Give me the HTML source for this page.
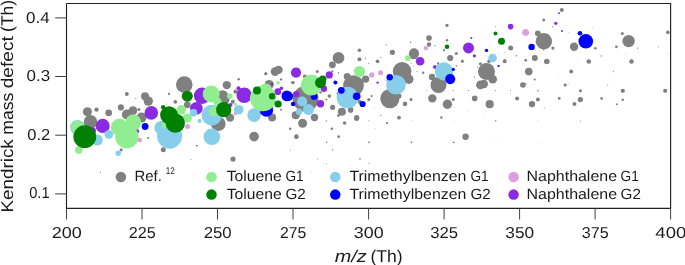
<!DOCTYPE html>
<html><head><meta charset="utf-8"><style>
html,body{margin:0;padding:0;background:#fff;}
body{width:685px;height:265px;overflow:hidden;position:relative;font-family:"Liberation Sans",sans-serif;}
svg{position:absolute;left:0;top:0;}
text{font-family:"Liberation Sans",sans-serif;fill:#1a1a1a;text-rendering:geometricPrecision;}
</style></head><body>
<svg width="685" height="265" viewBox="0 0 685 265" style="will-change:transform">
<rect width="685" height="265" fill="#fff"/>
<clipPath id="cp"><rect x="66.5" y="3.5" width="604.1" height="204.9"/></clipPath>
<g clip-path="url(#cp)">
<circle cx="87.4" cy="111.7" r="4.55" fill="#808080"/>
<circle cx="96.5" cy="109.6" r="2.20" fill="#808080"/>
<circle cx="108.7" cy="112.8" r="3.40" fill="#808080"/>
<circle cx="120.9" cy="107.4" r="3.10" fill="#808080"/>
<circle cx="126.9" cy="114.5" r="5.10" fill="#808080"/>
<circle cx="133.0" cy="110.6" r="4.30" fill="#808080"/>
<circle cx="138.9" cy="109.6" r="1.50" fill="#808080"/>
<circle cx="141.5" cy="117.6" r="5.00" fill="#808080"/>
<circle cx="90.5" cy="121.9" r="6.80" fill="#808080"/>
<circle cx="121.2" cy="149.8" r="1.60" fill="#808080"/>
<circle cx="126.8" cy="93.9" r="2.00" fill="#808080"/>
<circle cx="145.0" cy="96.3" r="4.00" fill="#808080"/>
<circle cx="148.3" cy="101.1" r="4.70" fill="#808080"/>
<circle cx="135.8" cy="98.5" r="0.60" fill="#808080"/>
<circle cx="169.0" cy="93.9" r="1.10" fill="#808080"/>
<circle cx="175.3" cy="101.8" r="1.90" fill="#808080"/>
<circle cx="166.4" cy="103.9" r="0.50" fill="#808080"/>
<circle cx="184.3" cy="84.6" r="8.30" fill="#808080"/>
<circle cx="187.3" cy="104.8" r="3.40" fill="#808080"/>
<circle cx="148.2" cy="138.0" r="1.10" fill="#808080"/>
<circle cx="196.6" cy="145.6" r="0.90" fill="#808080"/>
<circle cx="163.3" cy="149.8" r="2.50" fill="#808080"/>
<circle cx="218.3" cy="123.8" r="7.30" fill="#808080"/>
<circle cx="226.8" cy="85.1" r="4.20" fill="#808080"/>
<circle cx="238.7" cy="79.2" r="1.20" fill="#808080"/>
<circle cx="275.0" cy="71.6" r="4.30" fill="#808080"/>
<circle cx="278.5" cy="69.9" r="4.20" fill="#808080"/>
<circle cx="275.0" cy="75.6" r="0.50" fill="#808080"/>
<circle cx="265.8" cy="73.7" r="1.60" fill="#808080"/>
<circle cx="281.0" cy="79.4" r="1.20" fill="#808080"/>
<circle cx="269.2" cy="84.5" r="4.60" fill="#808080"/>
<circle cx="235.6" cy="91.6" r="2.20" fill="#808080"/>
<circle cx="222.5" cy="95.9" r="5.70" fill="#808080"/>
<circle cx="225.4" cy="99.8" r="4.00" fill="#808080"/>
<circle cx="291.8" cy="82.6" r="1.00" fill="#808080"/>
<circle cx="232.8" cy="101.7" r="2.00" fill="#808080"/>
<circle cx="230.0" cy="117.6" r="4.20" fill="#808080"/>
<circle cx="272.1" cy="117.6" r="4.00" fill="#808080"/>
<circle cx="281.0" cy="109.7" r="1.00" fill="#808080"/>
<circle cx="254.1" cy="136.6" r="4.80" fill="#808080"/>
<circle cx="290.2" cy="128.8" r="1.30" fill="#808080"/>
<circle cx="298.8" cy="69.0" r="0.80" fill="#808080"/>
<circle cx="338.5" cy="57.8" r="5.90" fill="#808080"/>
<circle cx="332.4" cy="64.8" r="3.40" fill="#808080"/>
<circle cx="359.5" cy="59.3" r="2.00" fill="#808080"/>
<circle cx="365.4" cy="58.3" r="0.60" fill="#808080"/>
<circle cx="317.3" cy="71.6" r="1.50" fill="#808080"/>
<circle cx="332.4" cy="71.3" r="1.10" fill="#808080"/>
<circle cx="338.5" cy="72.7" r="0.80" fill="#808080"/>
<circle cx="293.1" cy="82.6" r="1.70" fill="#808080"/>
<circle cx="304.9" cy="76.4" r="2.00" fill="#808080"/>
<circle cx="320.5" cy="92.4" r="1.20" fill="#808080"/>
<circle cx="305.6" cy="98.8" r="12.90" fill="#808080"/>
<circle cx="329.3" cy="96.1" r="1.80" fill="#808080"/>
<circle cx="326.4" cy="99.5" r="1.00" fill="#808080"/>
<circle cx="359.6" cy="101.8" r="2.00" fill="#808080"/>
<circle cx="347.2" cy="76.4" r="3.50" fill="#808080"/>
<circle cx="353.5" cy="85.6" r="10.40" fill="#808080"/>
<circle cx="295.7" cy="115.2" r="4.00" fill="#808080"/>
<circle cx="314.5" cy="117.5" r="3.70" fill="#808080"/>
<circle cx="302.6" cy="123.2" r="4.50" fill="#808080"/>
<circle cx="332.6" cy="107.3" r="2.60" fill="#808080"/>
<circle cx="341.9" cy="111.8" r="4.00" fill="#808080"/>
<circle cx="338.5" cy="115.6" r="1.40" fill="#808080"/>
<circle cx="350.6" cy="109.9" r="2.80" fill="#808080"/>
<circle cx="356.7" cy="117.5" r="2.60" fill="#808080"/>
<circle cx="344.6" cy="123.0" r="1.80" fill="#808080"/>
<circle cx="326.4" cy="120.9" r="0.70" fill="#808080"/>
<circle cx="402.1" cy="71.3" r="9.30" fill="#808080"/>
<circle cx="408.7" cy="79.2" r="4.80" fill="#808080"/>
<circle cx="377.6" cy="61.3" r="1.90" fill="#808080"/>
<circle cx="365.6" cy="79.1" r="3.70" fill="#808080"/>
<circle cx="413.8" cy="54.5" r="4.80" fill="#808080"/>
<circle cx="438.1" cy="63.5" r="1.20" fill="#808080"/>
<circle cx="423.2" cy="72.7" r="1.20" fill="#808080"/>
<circle cx="432.0" cy="76.9" r="3.20" fill="#808080"/>
<circle cx="438.5" cy="85.0" r="8.00" fill="#808080"/>
<circle cx="365.4" cy="58.1" r="0.50" fill="#808080"/>
<circle cx="368.5" cy="63.6" r="0.60" fill="#808080"/>
<circle cx="380.6" cy="57.6" r="0.50" fill="#808080"/>
<circle cx="386.7" cy="65.8" r="0.40" fill="#808080"/>
<circle cx="411.2" cy="63.6" r="0.50" fill="#808080"/>
<circle cx="414.0" cy="65.9" r="0.50" fill="#808080"/>
<circle cx="417.0" cy="71.6" r="0.50" fill="#808080"/>
<circle cx="389.9" cy="98.6" r="9.60" fill="#808080"/>
<circle cx="399.0" cy="96.1" r="2.50" fill="#808080"/>
<circle cx="371.7" cy="96.1" r="1.10" fill="#808080"/>
<circle cx="368.8" cy="99.6" r="1.60" fill="#808080"/>
<circle cx="411.0" cy="99.6" r="1.50" fill="#808080"/>
<circle cx="405.0" cy="103.9" r="2.30" fill="#808080"/>
<circle cx="432.3" cy="98.4" r="4.20" fill="#808080"/>
<circle cx="426.1" cy="90.7" r="0.50" fill="#808080"/>
<circle cx="399.0" cy="117.7" r="1.90" fill="#808080"/>
<circle cx="387.0" cy="123.1" r="1.10" fill="#808080"/>
<circle cx="374.5" cy="107.8" r="0.40" fill="#808080"/>
<circle cx="380.8" cy="115.4" r="0.60" fill="#808080"/>
<circle cx="368.8" cy="120.7" r="0.50" fill="#808080"/>
<circle cx="411.2" cy="120.7" r="0.40" fill="#808080"/>
<circle cx="447.0" cy="40.3" r="1.20" fill="#808080"/>
<circle cx="444.0" cy="50.2" r="1.10" fill="#808080"/>
<circle cx="456.3" cy="53.6" r="1.50" fill="#808080"/>
<circle cx="450.2" cy="58.0" r="3.10" fill="#808080"/>
<circle cx="510.6" cy="47.9" r="2.50" fill="#808080"/>
<circle cx="489.0" cy="61.3" r="1.80" fill="#808080"/>
<circle cx="489.5" cy="46.8" r="0.40" fill="#808080"/>
<circle cx="498.6" cy="53.7" r="0.40" fill="#808080"/>
<circle cx="504.7" cy="52.5" r="0.40" fill="#808080"/>
<circle cx="504.7" cy="59.9" r="0.90" fill="#808080"/>
<circle cx="462.4" cy="59.7" r="0.50" fill="#808080"/>
<circle cx="447.0" cy="25.3" r="1.60" fill="#808080"/>
<circle cx="495.4" cy="26.7" r="0.50" fill="#808080"/>
<circle cx="486.5" cy="71.4" r="8.50" fill="#808080"/>
<circle cx="492.7" cy="79.3" r="4.30" fill="#808080"/>
<circle cx="480.4" cy="63.7" r="1.50" fill="#808080"/>
<circle cx="462.4" cy="61.3" r="1.50" fill="#808080"/>
<circle cx="456.3" cy="65.9" r="0.80" fill="#808080"/>
<circle cx="477.5" cy="67.0" r="0.60" fill="#808080"/>
<circle cx="474.4" cy="77.1" r="0.70" fill="#808080"/>
<circle cx="504.7" cy="61.3" r="2.00" fill="#808080"/>
<circle cx="480.4" cy="84.9" r="4.30" fill="#808080"/>
<circle cx="483.8" cy="84.0" r="4.20" fill="#808080"/>
<circle cx="474.7" cy="98.4" r="2.80" fill="#808080"/>
<circle cx="453.3" cy="99.6" r="1.50" fill="#808080"/>
<circle cx="447.4" cy="104.2" r="4.70" fill="#808080"/>
<circle cx="489.7" cy="104.2" r="4.10" fill="#808080"/>
<circle cx="453.3" cy="90.5" r="0.60" fill="#808080"/>
<circle cx="468.5" cy="90.5" r="0.60" fill="#808080"/>
<circle cx="495.6" cy="90.5" r="0.60" fill="#808080"/>
<circle cx="510.6" cy="90.5" r="0.50" fill="#808080"/>
<circle cx="436.0" cy="98.3" r="0.50" fill="#808080"/>
<circle cx="441.4" cy="117.5" r="1.20" fill="#808080"/>
<circle cx="495.8" cy="120.7" r="0.70" fill="#808080"/>
<circle cx="453.3" cy="120.7" r="0.30" fill="#808080"/>
<circle cx="483.5" cy="117.7" r="0.30" fill="#808080"/>
<circle cx="468.5" cy="111.6" r="0.30" fill="#808080"/>
<circle cx="561.8" cy="9.9" r="2.00" fill="#808080"/>
<circle cx="543.7" cy="20.0" r="1.40" fill="#808080"/>
<circle cx="552.7" cy="26.8" r="0.60" fill="#808080"/>
<circle cx="537.8" cy="33.3" r="2.90" fill="#808080"/>
<circle cx="543.9" cy="41.2" r="8.20" fill="#808080"/>
<circle cx="552.9" cy="48.1" r="1.60" fill="#808080"/>
<circle cx="543.7" cy="49.8" r="0.80" fill="#808080"/>
<circle cx="574.1" cy="46.7" r="4.20" fill="#808080"/>
<circle cx="568.1" cy="32.5" r="0.40" fill="#808080"/>
<circle cx="555.9" cy="37.8" r="0.30" fill="#808080"/>
<circle cx="540.8" cy="53.4" r="0.40" fill="#808080"/>
<circle cx="534.8" cy="54.7" r="0.30" fill="#808080"/>
<circle cx="516.5" cy="55.7" r="0.80" fill="#808080"/>
<circle cx="534.8" cy="58.0" r="3.00" fill="#808080"/>
<circle cx="546.8" cy="61.5" r="2.80" fill="#808080"/>
<circle cx="528.8" cy="71.6" r="3.80" fill="#808080"/>
<circle cx="525.7" cy="60.3" r="1.40" fill="#808080"/>
<circle cx="571.2" cy="71.5" r="1.90" fill="#808080"/>
<circle cx="588.8" cy="61.5" r="2.30" fill="#808080"/>
<circle cx="534.8" cy="79.4" r="1.00" fill="#808080"/>
<circle cx="559.2" cy="76.7" r="0.30" fill="#808080"/>
<circle cx="577.2" cy="58.3" r="0.30" fill="#808080"/>
<circle cx="522.5" cy="63.6" r="0.30" fill="#808080"/>
<circle cx="522.9" cy="85.0" r="2.80" fill="#808080"/>
<circle cx="526.0" cy="83.8" r="0.70" fill="#808080"/>
<circle cx="537.9" cy="90.7" r="0.80" fill="#808080"/>
<circle cx="517.1" cy="98.4" r="2.00" fill="#808080"/>
<circle cx="537.9" cy="99.6" r="2.00" fill="#808080"/>
<circle cx="532.0" cy="104.1" r="3.20" fill="#808080"/>
<circle cx="565.2" cy="85.0" r="1.60" fill="#808080"/>
<circle cx="568.4" cy="83.6" r="0.40" fill="#808080"/>
<circle cx="559.2" cy="98.4" r="1.40" fill="#808080"/>
<circle cx="580.4" cy="90.7" r="1.50" fill="#808080"/>
<circle cx="580.4" cy="99.6" r="2.60" fill="#808080"/>
<circle cx="574.4" cy="104.1" r="2.00" fill="#808080"/>
<circle cx="544.2" cy="107.7" r="0.50" fill="#808080"/>
<circle cx="538.2" cy="120.8" r="0.40" fill="#808080"/>
<circle cx="580.4" cy="121.0" r="0.60" fill="#808080"/>
<circle cx="628.6" cy="41.1" r="6.20" fill="#808080"/>
<circle cx="622.3" cy="33.5" r="1.50" fill="#808080"/>
<circle cx="616.4" cy="46.8" r="1.40" fill="#808080"/>
<circle cx="595.3" cy="48.2" r="1.30" fill="#808080"/>
<circle cx="667.8" cy="32.4" r="1.80" fill="#808080"/>
<circle cx="601.3" cy="55.9" r="0.70" fill="#808080"/>
<circle cx="637.6" cy="48.2" r="0.60" fill="#808080"/>
<circle cx="625.5" cy="53.8" r="0.40" fill="#808080"/>
<circle cx="658.5" cy="46.8" r="0.50" fill="#808080"/>
<circle cx="667.8" cy="53.8" r="0.40" fill="#808080"/>
<circle cx="592.4" cy="27.6" r="0.40" fill="#808080"/>
<circle cx="631.5" cy="59.0" r="0.40" fill="#808080"/>
<circle cx="631.5" cy="61.5" r="2.30" fill="#808080"/>
<circle cx="613.4" cy="71.6" r="0.60" fill="#808080"/>
<circle cx="607.5" cy="85.1" r="0.50" fill="#808080"/>
<circle cx="610.5" cy="83.8" r="0.30" fill="#808080"/>
<circle cx="622.8" cy="90.8" r="2.10" fill="#808080"/>
<circle cx="665.2" cy="90.8" r="2.10" fill="#808080"/>
<circle cx="601.6" cy="98.4" r="1.30" fill="#808080"/>
<circle cx="622.8" cy="99.7" r="1.20" fill="#808080"/>
<circle cx="616.8" cy="104.2" r="1.00" fill="#808080"/>
<circle cx="197.0" cy="145.7" r="0.70" fill="#808080"/>
<circle cx="191.0" cy="159.3" r="0.50" fill="#808080"/>
<circle cx="100.4" cy="172.3" r="0.60" fill="#808080"/>
<circle cx="233.0" cy="159.1" r="2.60" fill="#808080"/>
<circle cx="296.4" cy="136.7" r="2.40" fill="#808080"/>
<circle cx="290.4" cy="149.9" r="0.50" fill="#808080"/>
<circle cx="326.6" cy="142.3" r="0.80" fill="#808080"/>
<circle cx="317.4" cy="159.1" r="0.50" fill="#808080"/>
<circle cx="326.4" cy="163.7" r="0.40" fill="#808080"/>
<circle cx="331.8" cy="128.8" r="1.30" fill="#808080"/>
<circle cx="338.6" cy="136.7" r="1.40" fill="#808080"/>
<circle cx="356.6" cy="118.3" r="2.60" fill="#808080"/>
<circle cx="369.0" cy="142.3" r="0.90" fill="#808080"/>
<circle cx="411.4" cy="142.3" r="0.90" fill="#808080"/>
<circle cx="453.6" cy="142.3" r="0.90" fill="#808080"/>
<circle cx="332.6" cy="149.9" r="0.70" fill="#808080"/>
<circle cx="360.0" cy="159.1" r="0.80" fill="#808080"/>
<circle cx="369.0" cy="163.5" r="0.60" fill="#808080"/>
<circle cx="387.0" cy="123.1" r="0.80" fill="#808080"/>
<circle cx="375.0" cy="128.7" r="0.40" fill="#808080"/>
<circle cx="465.6" cy="136.7" r="3.20" fill="#808080"/>
<circle cx="496.0" cy="142.3" r="0.40" fill="#808080"/>
<circle cx="538.4" cy="142.3" r="0.30" fill="#808080"/>
<circle cx="270.1" cy="171.7" r="0.50" fill="#808080"/>
<circle cx="311.4" cy="171.9" r="0.40" fill="#808080"/>
<circle cx="326.3" cy="163.7" r="0.40" fill="#808080"/>
<circle cx="429.0" cy="38.1" r="2.80" fill="#808080"/>
<circle cx="429.0" cy="44.5" r="2.20" fill="#808080"/>
<circle cx="414.0" cy="53.3" r="5.00" fill="#808080"/>
<circle cx="392.4" cy="52.3" r="2.60" fill="#808080"/>
<circle cx="359.4" cy="50.3" r="1.80" fill="#808080"/>
<circle cx="386.4" cy="44.7" r="0.60" fill="#808080"/>
<circle cx="410.6" cy="42.3" r="0.70" fill="#808080"/>
<circle cx="435.0" cy="45.7" r="0.70" fill="#808080"/>
<circle cx="139.7" cy="140.1" r="2.30" fill="#dda0dd"/>
<circle cx="187.5" cy="126.5" r="2.50" fill="#dda0dd"/>
<circle cx="235.4" cy="113.6" r="1.80" fill="#dda0dd"/>
<circle cx="371.7" cy="74.9" r="2.60" fill="#dda0dd"/>
<circle cx="380.6" cy="72.7" r="2.50" fill="#dda0dd"/>
<circle cx="386.3" cy="80.6" r="0.80" fill="#dda0dd"/>
<circle cx="525.6" cy="32.4" r="3.40" fill="#dda0dd"/>
<circle cx="425.8" cy="48.1" r="2.20" fill="#dda0dd"/>
<circle cx="102.7" cy="125.9" r="7.05" fill="#8a2be2"/>
<circle cx="92.5" cy="130.8" r="3.50" fill="#8a2be2"/>
<circle cx="136.8" cy="131.3" r="2.30" fill="#8a2be2"/>
<circle cx="202.1" cy="95.7" r="8.20" fill="#8a2be2"/>
<circle cx="196.4" cy="108.3" r="6.30" fill="#8a2be2"/>
<circle cx="151.3" cy="112.9" r="6.80" fill="#8a2be2"/>
<circle cx="271.9" cy="84.2" r="1.40" fill="#8a2be2"/>
<circle cx="238.5" cy="88.2" r="2.00" fill="#8a2be2"/>
<circle cx="244.2" cy="95.3" r="7.70" fill="#8a2be2"/>
<circle cx="277.8" cy="91.7" r="3.40" fill="#8a2be2"/>
<circle cx="281.4" cy="88.2" r="1.80" fill="#8a2be2"/>
<circle cx="230.5" cy="104.9" r="2.00" fill="#8a2be2"/>
<circle cx="296.0" cy="72.6" r="5.10" fill="#8a2be2"/>
<circle cx="329.3" cy="74.9" r="3.60" fill="#8a2be2"/>
<circle cx="323.9" cy="88.7" r="3.20" fill="#8a2be2"/>
<circle cx="296.2" cy="94.1" r="3.20" fill="#8a2be2"/>
<circle cx="320.5" cy="103.8" r="3.70" fill="#8a2be2"/>
<circle cx="337.5" cy="93.5" r="1.00" fill="#8a2be2"/>
<circle cx="377.6" cy="82.6" r="1.20" fill="#8a2be2"/>
<circle cx="420.1" cy="61.2" r="4.30" fill="#8a2be2"/>
<circle cx="434.9" cy="67.0" r="1.90" fill="#8a2be2"/>
<circle cx="468.5" cy="47.9" r="5.50" fill="#8a2be2"/>
<circle cx="471.3" cy="38.0" r="1.10" fill="#8a2be2"/>
<circle cx="474.4" cy="55.8" r="1.60" fill="#8a2be2"/>
<circle cx="559.0" cy="13.3" r="1.00" fill="#8a2be2"/>
<circle cx="555.8" cy="23.3" r="1.60" fill="#8a2be2"/>
<circle cx="562.0" cy="31.1" r="1.00" fill="#8a2be2"/>
<circle cx="510.6" cy="26.6" r="2.80" fill="#8a2be2"/>
<circle cx="77.6" cy="127.5" r="7.50" fill="#87ceeb"/>
<circle cx="97.3" cy="140.1" r="5.50" fill="#87ceeb"/>
<circle cx="108.9" cy="134.4" r="4.40" fill="#87ceeb"/>
<circle cx="118.2" cy="153.3" r="2.70" fill="#87ceeb"/>
<circle cx="193.5" cy="112.8" r="3.80" fill="#87ceeb"/>
<circle cx="211.8" cy="115.1" r="10.30" fill="#87ceeb"/>
<circle cx="199.5" cy="121.1" r="2.00" fill="#87ceeb"/>
<circle cx="169.6" cy="136.2" r="12.50" fill="#87ceeb"/>
<circle cx="161.1" cy="127.7" r="6.80" fill="#87ceeb"/>
<circle cx="211.8" cy="136.8" r="8.30" fill="#87ceeb"/>
<circle cx="254.1" cy="115.1" r="6.80" fill="#87ceeb"/>
<circle cx="238.8" cy="109.7" r="4.80" fill="#87ceeb"/>
<circle cx="302.2" cy="101.5" r="5.10" fill="#87ceeb"/>
<circle cx="308.5" cy="109.5" r="5.50" fill="#87ceeb"/>
<circle cx="299.0" cy="111.8" r="3.20" fill="#87ceeb"/>
<circle cx="347.5" cy="97.5" r="10.80" fill="#87ceeb"/>
<circle cx="396.0" cy="84.8" r="9.80" fill="#87ceeb"/>
<circle cx="442.5" cy="71.3" r="5.50" fill="#87ceeb"/>
<circle cx="492.6" cy="58.0" r="4.30" fill="#87ceeb"/>
<circle cx="444.0" cy="71.4" r="9.10" fill="#87ceeb"/>
<circle cx="145.1" cy="126.5" r="3.40" fill="#0000ff"/>
<circle cx="286.9" cy="95.9" r="5.40" fill="#0000ff"/>
<circle cx="266.4" cy="109.9" r="6.80" fill="#0000ff"/>
<circle cx="335.4" cy="82.6" r="2.00" fill="#0000ff"/>
<circle cx="288.6" cy="96.3" r="4.60" fill="#0000ff"/>
<circle cx="314.2" cy="96.4" r="3.40" fill="#0000ff"/>
<circle cx="293.1" cy="104.0" r="2.30" fill="#0000ff"/>
<circle cx="341.3" cy="90.3" r="3.40" fill="#0000ff"/>
<circle cx="356.7" cy="96.2" r="3.80" fill="#0000ff"/>
<circle cx="362.6" cy="104.0" r="3.10" fill="#0000ff"/>
<circle cx="389.7" cy="77.3" r="3.20" fill="#0000ff"/>
<circle cx="486.5" cy="50.4" r="1.70" fill="#0000ff"/>
<circle cx="498.6" cy="66.0" r="1.10" fill="#0000ff"/>
<circle cx="453.3" cy="69.4" r="1.60" fill="#0000ff"/>
<circle cx="450.2" cy="79.1" r="5.10" fill="#0000ff"/>
<circle cx="580.0" cy="33.3" r="2.30" fill="#0000ff"/>
<circle cx="531.6" cy="46.9" r="3.20" fill="#0000ff"/>
<circle cx="585.8" cy="41.3" r="7.30" fill="#0000ff"/>
<circle cx="77.9" cy="127.5" r="6.80" fill="#90ee90"/>
<circle cx="78.8" cy="150.1" r="3.80" fill="#90ee90"/>
<circle cx="119.4" cy="127.3" r="8.50" fill="#90ee90"/>
<circle cx="133.2" cy="122.5" r="8.00" fill="#90ee90"/>
<circle cx="126.9" cy="136.7" r="11.70" fill="#90ee90"/>
<circle cx="211.2" cy="94.0" r="8.50" fill="#90ee90"/>
<circle cx="181.2" cy="109.8" r="4.80" fill="#90ee90"/>
<circle cx="187.3" cy="118.0" r="4.60" fill="#90ee90"/>
<circle cx="213.6" cy="111.2" r="5.00" fill="#90ee90"/>
<circle cx="164.5" cy="125.5" r="3.00" fill="#90ee90"/>
<circle cx="278.0" cy="82.8" r="1.80" fill="#90ee90"/>
<circle cx="229.7" cy="96.1" r="2.80" fill="#90ee90"/>
<circle cx="263.0" cy="98.3" r="13.00" fill="#90ee90"/>
<circle cx="265.8" cy="89.5" r="6.00" fill="#90ee90"/>
<circle cx="217.3" cy="101.5" r="4.00" fill="#90ee90"/>
<circle cx="235.6" cy="104.2" r="1.50" fill="#90ee90"/>
<circle cx="359.5" cy="71.5" r="5.50" fill="#90ee90"/>
<circle cx="311.3" cy="85.1" r="10.50" fill="#90ee90"/>
<circle cx="407.9" cy="58.1" r="2.80" fill="#90ee90"/>
<circle cx="84.8" cy="136.7" r="11.40" fill="#008000"/>
<circle cx="187.3" cy="96.2" r="5.50" fill="#008000"/>
<circle cx="163.2" cy="107.2" r="2.20" fill="#008000"/>
<circle cx="169.0" cy="115.1" r="8.90" fill="#008000"/>
<circle cx="175.3" cy="123.1" r="9.70" fill="#008000"/>
<circle cx="257.0" cy="90.5" r="4.00" fill="#008000"/>
<circle cx="272.1" cy="96.2" r="3.20" fill="#008000"/>
<circle cx="278.1" cy="104.0" r="3.60" fill="#008000"/>
<circle cx="223.7" cy="109.7" r="7.60" fill="#008000"/>
<circle cx="322.7" cy="79.3" r="3.70" fill="#008000"/>
<circle cx="320.5" cy="82.7" r="5.50" fill="#008000"/>
<circle cx="447.0" cy="46.8" r="2.30" fill="#008000"/>
<circle cx="495.5" cy="33.4" r="2.00" fill="#008000"/>
<circle cx="501.5" cy="41.2" r="3.50" fill="#008000"/>
</g>
<g fill="none" stroke="#222222" stroke-width="1.15">
<path d="M66.5 3.5 H670.6 V208.4 M66.5 3.5 V208.4 H670.6"/>
</g>
<g fill="none" stroke="#404040" stroke-width="1">
<path d="M66.5 208.4 V219.5"/>
<path d="M142.0 208.4 V219.5"/>
<path d="M217.5 208.4 V219.5"/>
<path d="M293.0 208.4 V219.5"/>
<path d="M368.6 208.4 V219.5"/>
<path d="M444.1 208.4 V219.5"/>
<path d="M519.6 208.4 V219.5"/>
<path d="M595.1 208.4 V219.5"/>
<path d="M670.6 208.4 V219.5"/>
<path d="M55.2 17.9 H66.5"/>
<path d="M55.2 76.5 H66.5"/>
<path d="M55.2 135.2 H66.5"/>
<path d="M55.2 193.9 H66.5"/>
</g>
<g font-size="15.8">
<text x="66.7" y="238" text-anchor="middle" textLength="30.0" lengthAdjust="spacingAndGlyphs">200</text>
<text x="142.2" y="238" text-anchor="middle" textLength="27.0" lengthAdjust="spacingAndGlyphs">225</text>
<text x="217.7" y="238" text-anchor="middle" textLength="28.0" lengthAdjust="spacingAndGlyphs">250</text>
<text x="293.2" y="238" text-anchor="middle" textLength="26.2" lengthAdjust="spacingAndGlyphs">275</text>
<text x="368.7" y="238" text-anchor="middle" textLength="29.8" lengthAdjust="spacingAndGlyphs">300</text>
<text x="444.2" y="238" text-anchor="middle" textLength="27.8" lengthAdjust="spacingAndGlyphs">325</text>
<text x="519.7" y="238" text-anchor="middle" textLength="28.8" lengthAdjust="spacingAndGlyphs">350</text>
<text x="595.2" y="238" text-anchor="middle" textLength="26.8" lengthAdjust="spacingAndGlyphs">375</text>
<text x="670.8" y="238" text-anchor="middle" textLength="31.0" lengthAdjust="spacingAndGlyphs">400</text>
<text x="26.0" y="23.0" textLength="23.6" lengthAdjust="spacingAndGlyphs">0.4</text>
<text x="26.5" y="81.0" textLength="23.6" lengthAdjust="spacingAndGlyphs">0.3</text>
<text x="27.3" y="140.0" textLength="22.9" lengthAdjust="spacingAndGlyphs">0.2</text>
<text x="29.2" y="198.0" textLength="20.4" lengthAdjust="spacingAndGlyphs">0.1</text>
</g>
<text font-size="17" transform="translate(13.4 212.55) rotate(-90)" textLength="73.3" lengthAdjust="spacingAndGlyphs">Kendrick</text>
<text font-size="17" transform="translate(13.4 134.70) rotate(-90)" textLength="42.0" lengthAdjust="spacingAndGlyphs">mass</text>
<text font-size="17" transform="translate(13.4 88.30) rotate(-90)" textLength="52.1" lengthAdjust="spacingAndGlyphs">defect</text>
<text font-size="17" transform="translate(13.4 31.90) rotate(-90)" textLength="32.1" lengthAdjust="spacingAndGlyphs">(Th)</text>
<text font-size="17" x="334.8" y="262.0"><tspan font-style="italic" textLength="32" lengthAdjust="spacingAndGlyphs">m/z</tspan><tspan x="370.4" textLength="32.2" lengthAdjust="spacingAndGlyphs">(Th)</tspan></text>
<circle cx="120.9" cy="177.0" r="5.25" fill="#808080"/>
<circle cx="211.5" cy="177.0" r="5.25" fill="#90ee90"/>
<circle cx="211.5" cy="194.6" r="5.25" fill="#008000"/>
<circle cx="335.3" cy="177.0" r="5.25" fill="#87ceeb"/>
<circle cx="335.3" cy="194.6" r="5.25" fill="#0000ff"/>
<circle cx="513.6" cy="177.0" r="5.25" fill="#dda0dd"/>
<circle cx="513.6" cy="194.6" r="5.25" fill="#8a2be2"/>
<g font-size="14.8">
<text x="134.4" y="181.2" textLength="27.4" lengthAdjust="spacingAndGlyphs">Ref.</text>
<text x="165.7" y="174.0" font-size="9.8" textLength="9.0" lengthAdjust="spacingAndGlyphs" fill="#2a2a2a">12</text>
<text y="181.2"><tspan x="226.7" textLength="55.0" lengthAdjust="spacingAndGlyphs">Toluene</tspan><tspan x="285.5" textLength="18.2" lengthAdjust="spacingAndGlyphs">G1</tspan></text>
<text y="199.4"><tspan x="226.7" textLength="55.0" lengthAdjust="spacingAndGlyphs">Toluene</tspan><tspan x="285.5" textLength="20.3" lengthAdjust="spacingAndGlyphs">G2</tspan></text>
<text y="181.2"><tspan x="349.4" textLength="117.0" lengthAdjust="spacingAndGlyphs">Trimethylbenzen</tspan><tspan x="470.4" textLength="18.2" lengthAdjust="spacingAndGlyphs">G1</tspan></text>
<text y="199.4"><tspan x="349.4" textLength="117.0" lengthAdjust="spacingAndGlyphs">Trimethylbenzen</tspan><tspan x="470.4" textLength="20.3" lengthAdjust="spacingAndGlyphs">G2</tspan></text>
<text y="181.2"><tspan x="526.6" textLength="90.4" lengthAdjust="spacingAndGlyphs">Naphthalene</tspan><tspan x="620.6" textLength="18.2" lengthAdjust="spacingAndGlyphs">G1</tspan></text>
<text y="199.4"><tspan x="526.6" textLength="90.4" lengthAdjust="spacingAndGlyphs">Naphthalene</tspan><tspan x="620.6" textLength="20.3" lengthAdjust="spacingAndGlyphs">G2</tspan></text>
</g>
</svg></body></html>
